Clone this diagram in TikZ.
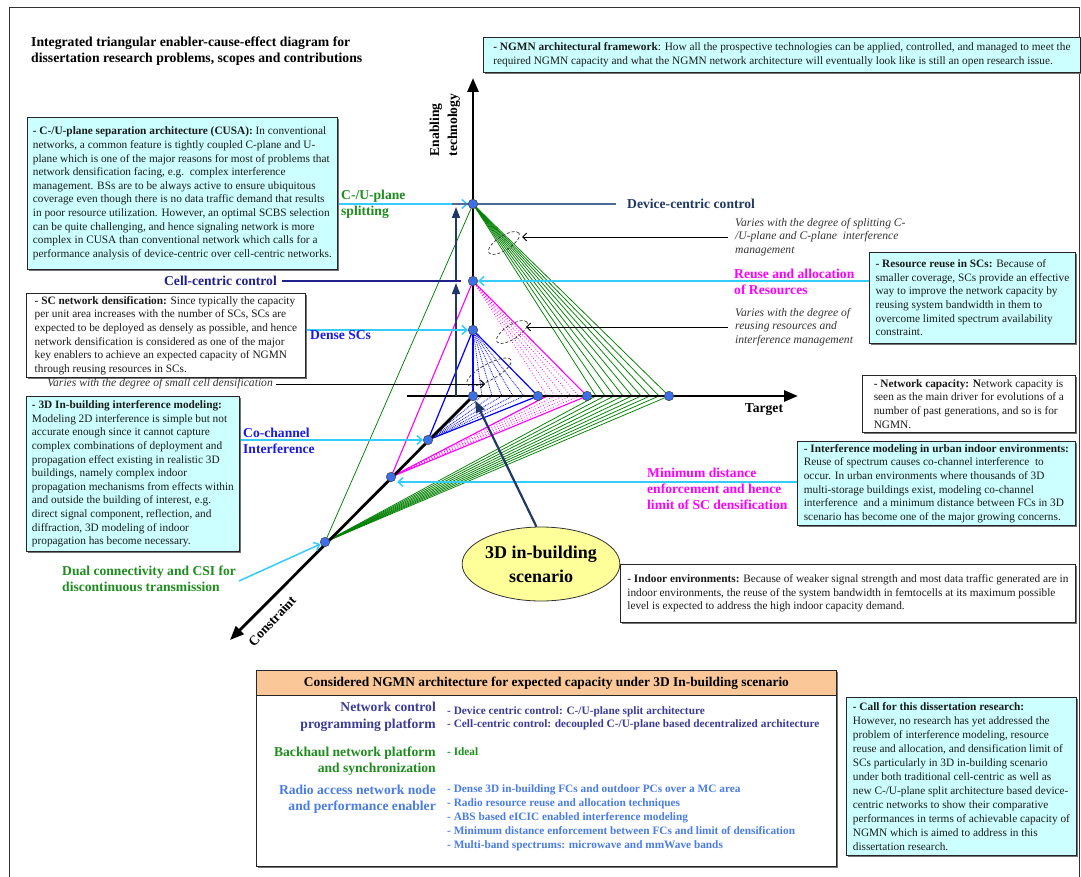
\documentclass[tikz,border=0pt]{standalone}
\usepackage{fontspec}
\setmainfont{Liberation Serif}
\usetikzlibrary{arrows.meta,shapes.geometric,shadows}

\definecolor{boxcyan}{HTML}{CCFFFF}
\definecolor{guidecyan}{HTML}{33CCFF}
\definecolor{vtxblue}{HTML}{3C6FE8}
\definecolor{deepnavy}{HTML}{1F3864}
\definecolor{steelline}{HTML}{4B6B94}
\definecolor{cellnavy}{HTML}{20208C}
\definecolor{leafgreen}{HTML}{1E8C1E}
\definecolor{brightblue}{HTML}{1A1AE6}
\definecolor{paleyellow}{HTML}{FFFF99}
\definecolor{peach}{HTML}{FAC898}
\definecolor{slateblue}{HTML}{3C3C96}
\definecolor{skyblue}{HTML}{4A7CE8}
\definecolor{bodytext}{HTML}{1A1A1A}
\definecolor{notegray}{HTML}{333333}
\definecolor{conegreen}{HTML}{008000}
\definecolor{vivid}{RGB}{255,0,255}
\definecolor{pureblue}{RGB}{0,0,255}

\pgfdeclarelayer{bg}
\pgfsetlayers{bg,main}

\tikzset{
  infobox/.style={font=\fontsize{11.3}{13.6}\selectfont, draw=black!85, line width=0.8pt,
    anchor=north west, align=left, inner xsep=4pt, inner ysep=3pt, text=bodytext,
    drop shadow={shadow xshift=1.2pt, shadow yshift=-1.2pt, fill=black!55, opacity=1}},
  cyanbox/.style={infobox, fill=boxcyan},
  whitebox/.style={infobox, fill=white},
  vtx/.style={circle, fill=vtxblue, draw=black!75, line width=0.5pt, inner sep=0pt, minimum size=9.5pt},
  axisline/.style={line width=2.8pt, -{Triangle[length=14pt,width=11pt]}},
  guide/.style={guidecyan, line width=1.5pt, -{Straight Barb[length=5pt,width=9pt]}},
  notearrow/.style={black, line width=0.9pt, -{Straight Barb[length=4pt,width=8pt]}},
  navyarrow/.style={deepnavy, line width=1.5pt, -{Triangle[length=11pt,width=8pt]}},
  note/.style={font=\itshape\fontsize{11.6}{13.7}\selectfont, text=notegray, align=left,
    inner xsep=7pt, inner ysep=2pt},
  tag/.style={font=\bfseries\fontsize{13.6}{16}\selectfont, align=left, inner sep=1pt},
  degree/.style={ellipse, draw=black!80, dash pattern=on 3pt off 2pt, line width=0.7pt, inner sep=0pt},
  gline/.style={conegreen, line width=0.75pt},
  mline/.style={vivid, line width=1.1pt},
  mdot/.style={vivid, dotted, line width=0.8pt},
  bline/.style={pureblue, line width=1.2pt},
  bdot/.style={pureblue, densely dotted, line width=0.8pt},
  colhead/.style={font=\bfseries\fontsize{13.6}{16.5}\selectfont, align=right, inner sep=0pt},
  colitem/.style={font=\bfseries\fontsize{11.3}{13.4}\selectfont, align=left, inner sep=0pt, anchor=west},
}

\begin{document}
\begin{tikzpicture}[x=1pt,y=-1pt]
\useasboundingbox (0,0) rectangle (1081,877);
\clip (0,0) rectangle (1081,877);

% page frame
\draw[black!80, line width=0.8pt] (9,900) -- (9,7) -- (1079,7) -- (1079,900);

% title
\node[anchor=north west, align=left, inner sep=0pt,
      font=\bfseries\fontsize{13.7}{15.5}\selectfont] (title) at (31,37)
  {Integrated triangular enabler-cause-effect diagram for\\dissertation research problems, scopes and contributions};

% ---------------- text boxes ----------------
\node[cyanbox, minimum width=597, minimum height=35] (ngmn) at (483,37)
  {\textbf{- NGMN architectural framework}: How all the prospective technologies can be applied, controlled, and managed to meet the\\
   required NGMN capacity and what the NGMN network architecture will eventually look like is still an open research issue.};

\node[cyanbox, minimum width=310, minimum height=152] (cusa) at (27,117)
  {\textbf{- C-/U-plane separation architecture (CUSA):} In conventional\\
   networks, a common feature is tightly coupled C-plane and U-\\
   plane which is one of the major reasons for most of problems that\\
   network densification facing, e.g.\ \ complex interference\\
   management. BSs are to be always active to ensure ubiquitous\\
   coverage even though there is no data traffic demand that results\\
   in poor resource utilization. However, an optimal SCBS selection\\
   can be quite challenging, and hence signaling network is more\\
   complex in CUSA than conventional network which calls for a\\
   performance analysis of device-centric over cell-centric networks.};

\node[whitebox, minimum width=279, minimum height=83] (scbox) at (26,293)
  {\textbf{- SC network densification:} Since typically the capacity\\
   per unit area increases with the number of SCs, SCs are\\
   expected to be deployed as densely as possible, and hence\\
   network densification is considered as one of the major\\
   key enablers to achieve an expected capacity of NGMN\\
   through reusing resources in SCs.};

\node[cyanbox, minimum width=213, minimum height=155] (box3d) at (26,396)
  {\textbf{- 3D In-building interference modeling:}\\
   Modeling 2D interference is simple but not\\
   accurate enough since it cannot capture\\
   complex combinations of deployment and\\
   propagation effect existing in realistic 3D\\
   buildings, namely complex indoor\\
   propagation mechanisms from effects within\\
   and outside the building of interest, e.g.\\
   direct signal component, reflection, and\\
   diffraction, 3D modeling of indoor\\
   propagation has become necessary.};

\node[cyanbox, minimum width=206, minimum height=91] (reusebox) at (869,252)
  {\textbf{- Resource reuse in SCs:} Because of\\
   smaller coverage, SCs provide an effective\\
   way to improve the network capacity by\\
   reusing system bandwidth in them to\\
   overcome limited spectrum availability\\
   constraint.};

\node[whitebox, minimum width=213, minimum height=57] (capbox) at (862,375)
  {\textbf{- Network capacity: N}etwork capacity is\\
   seen as the main driver for evolutions of a\\
   number of past generations, and so is for\\
   NGMN.};

\node[cyanbox, minimum width=278, minimum height=82] (intbox) at (797,441)
  {\textbf{- Interference modeling in urban indoor environments:}\\
   Reuse of spectrum causes co-channel interference\ \ to\\
   occur. In urban environments where thousands of 3D\\
   multi-storage buildings exist, modeling co-channel\\
   interference\ \ and a minimum distance between FCs in 3D\\
   scenario has become one of the major growing concerns.};

\node[whitebox, minimum width=455, minimum height=58] (indoorbox) at (620,564)
  {\textbf{- Indoor environments:} Because of weaker signal strength and most data traffic generated are in\\
   indoor environments, the reuse of the system bandwidth in femtocells at its maximum possible\\
   level is expected to address the high indoor capacity demand.};

\node[cyanbox, minimum width=230, minimum height=158, font=\fontsize{11.3}{14}\selectfont] (callbox) at (846,697)
  {\textbf{- Call for this dissertation research:}\\
   However, no research has yet addressed the\\
   problem of interference modeling, resource\\
   reuse and allocation, and densification limit of\\
   SCs particularly in 3D in-building scenario\\
   under both traditional cell-centric as well as\\
   new C-/U-plane split architecture based device-\\
   centric networks to show their comparative\\
   performances in terms of achievable capacity of\\
   NGMN which is aimed to address in this\\
   dissertation research.};

% ---------------- vertices of the three triangles ----------------
\node[vtx] (A)  at (473,204) {};
\node[vtx] (B)  at (473,281) {};
\node[vtx] (C)  at (473,330) {};
\node[vtx] (O)  at (473,396) {};
\node[vtx] (H1) at (538,396) {};
\node[vtx] (H2) at (587,396) {};
\node[vtx] (H3) at (669,396) {};
\node[vtx] (D1) at (428,440) {};
\node[vtx] (D2) at (391,477) {};
\node[vtx] (D3) at (325,542) {};
\coordinate (vtop) at (473,78);
\coordinate (hstart) at (407,396);
\coordinate (htip) at (798,396);
\coordinate (ctip) at (230,640);

% axis labels
\node[font=\bfseries\fontsize{13.6}{18}\selectfont, align=left, rotate=90, inner sep=0pt] (enab) at (445,125) {Enabling\\technology};
\node[font=\bfseries\fontsize{13.6}{16}\selectfont, inner sep=0pt] (target) at (764,410) {Target};
\node[font=\bfseries\fontsize{13.6}{16}\selectfont, rotate=47, inner sep=0pt] (constr) at (272,621) {Constraint};

% degree-of-variation ellipses
\node[degree, minimum width=36, minimum height=14, rotate=33] (e1) at (504,243) {};
\node[degree, minimum width=36, minimum height=14, rotate=33] (e2) at (512,332) {};
\node[degree, minimum width=50, minimum height=16, rotate=29] (e3) at (489,372) {};

% side labels
\node[tag, text=leafgreen, anchor=west] (cusplit) at (340,204) {C-/U-plane\\splitting};
\node[tag, text=deepnavy, anchor=west] (devc) at (626,204) {Device-centric control};
\node[tag, text=cellnavy, anchor=east] (cellc) at (278,281) {Cell-centric control};
\node[tag, text=vivid, anchor=west] (reuse) at (733,282) {Reuse and allocation\\of Resources};
\node[tag, text=brightblue, anchor=west] (dense) at (309,335) {Dense SCs};
\node[tag, text=brightblue, anchor=west] (cochan) at (242,441) {Co-channel\\Interference};
\node[tag, text=vivid, anchor=west] (mindist) at (646,489) {Minimum distance\\enforcement and hence\\limit of SC densification};
\node[tag, text=leafgreen, anchor=west] (dual) at (61,579) {Dual connectivity and CSI for\\discontinuous transmission};

% notes
\node[note, anchor=west] (n1) at (728,237) {Varies with the degree of splitting C-\\/U-plane and C-plane\ \ interference\\management};
\node[note, anchor=west] (n2) at (728,327) {Varies with the degree of\\reusing resources and\\interference management};
\node[note, anchor=east, inner xsep=3pt] (n3) at (276,384) {Varies with the degree of small cell densification};
\coordinate (n1tip) at (522,237);
\coordinate (n2tip) at (526,327);
\coordinate (n3tip) at (485,384);

% scenario bubble
\node[ellipse, draw=black!80, fill=paleyellow, line width=0.8pt, minimum width=147, minimum height=74,
      inner sep=0pt, align=center, font=\bfseries\fontsize{18}{24}\selectfont] (scen) at (541,564)
  {3D in-building\\scenario};

% free ends of guide lines
\coordinate (dcstart) at (452,204);
\coordinate (dcend) at (616,204);
\coordinate (ccend) at (461,281);
\coordinate (mdtip) at (397,482);
\coordinate (dualstart) at (239,581);
\coordinate (nvbase) at (456,396);

% ---------------- connectors ----------------
\begin{pgfonlayer}{bg}
  % green triangle: splitting degree
  \foreach \x in {596,605,614,623,632,641,650,659} {
    \draw[gline] (A.center) -- (\x,396);
    \draw[gline] (D3.center) -- (\x,396);
  }
  \draw[gline] (A.center) -- (H3.center);
  \draw[gline] (D3.center) -- (H3.center);
  \draw[gline] (A.center) -- (D3.center);
  % magenta triangle: resource reuse
  \foreach \x in {547,555,563,571,579} {
    \draw[mdot] (B.center) -- (\x,396);
    \draw[mdot] (D2.center) -- (\x,396);
  }
  \draw[mline] (B.center) -- (H2.center);
  \draw[mline] (D2.center) -- (H2.center);
  \draw[mline] (D2.center) -- (547,396);
  \draw[mline] (B.center) -- (D2.center);
  % blue triangle: densification
  \foreach \x in {482,492,502,513,524} {
    \draw[bdot] (C.center) -- (\x,396);
    \draw[bdot] (D1.center) -- (\x,396);
  }
  \draw[bline] (C.center) -- (H1.center);
  \draw[bline] (D1.center) -- (H1.center);
  \draw[bline] (C.center) -- (D1.center);
  % axes
  \draw[axisline] (O.center) -- (vtop);
  \draw[axisline] (hstart) -- (htip);
  \draw[axisline] (O.center) -- (ctip);
  \draw[pureblue, line width=2.8pt] (C.center) -- (O.center);
  % control-plane levels
  \draw[navyarrow, shorten >=2pt] (nvbase) -- (nvbase |- B);
  \draw[navyarrow, shorten >=3pt] (nvbase |- B) -- (nvbase |- A);
  \draw[cellnavy, line width=1.5pt] ([xshift=4pt]cellc.east) -- (ccend);
  % guide arrows into the vertices
  \draw[guide] (cusa.east |- A) -- (A);
  \draw[steelline, line width=1.5pt] (dcstart) -- (dcend);
  \draw[guide] (reusebox.west |- B) -- (B);
  \draw[guide] (scbox.east |- C) -- (C);
  \draw[guide] (box3d.east |- D1) -- (D1);
  \draw[guide] (intbox.west |- mdtip) -- (mdtip);
  \draw[guide] (dualstart) -- (D3);
  % notes pointing at the ellipses
  \draw[notearrow] (n1.west) -- (n1tip);
  \draw[notearrow] (n2.west) -- (n2tip);
  \draw[notearrow] (n3.east) -- (n3tip);
  % scenario pointer
  \draw[deepnavy, line width=2.2pt, -{Triangle[length=12pt,width=9pt]}] (scen.97) -- (O);
\end{pgfonlayer}

% ---------------- architecture table ----------------
\node[draw=black!85, line width=0.9pt, fill=white, anchor=north west, minimum width=580, minimum height=196,
      inner sep=0pt, drop shadow={shadow xshift=1.2pt, shadow yshift=-1.2pt, fill=black!55, opacity=1}] (arch) at (256,670) {};
\node[draw=black!85, line width=0.9pt, fill=peach, anchor=north west, minimum width=580, minimum height=25,
      inner sep=0pt, font=\bfseries\fontsize{13.4}{15}\selectfont] (archhead) at (256,670)
  {Considered NGMN architecture for expected capacity under 3D In-building scenario};

\node[colhead, text=slateblue, anchor=east] (ncp) at (436,717) {Network control\\programming platform};
\node[colhead, text=leafgreen, anchor=east] (bnp) at (436,761) {Backhaul network platform\\and synchronization};
\node[colhead, text=skyblue, anchor=east] (ran) at (436,799) {Radio access network node\\and performance enabler};

\node[colitem, text=slateblue] (ncpitems) at (447,718.5)
  {- Device centric control: C-/U-plane split architecture\\
   - Cell-centric control: decoupled C-/U-plane based decentralized architecture};
\node[colitem, text=leafgreen] (bnpitems) at (447,752) {- Ideal};
\node[colitem, text=skyblue, font=\bfseries\fontsize{11.3}{14}\selectfont] (ranitems) at (447,818)
  {- Dense 3D in-building FCs and outdoor PCs over a MC area\\
   - Radio resource reuse and allocation techniques\\
   - ABS based eICIC enabled interference modeling\\
   - Minimum distance enforcement between FCs and limit of densification\\
   - Multi-band spectrums: microwave and mmWave bands};

\end{tikzpicture}
\end{document}
